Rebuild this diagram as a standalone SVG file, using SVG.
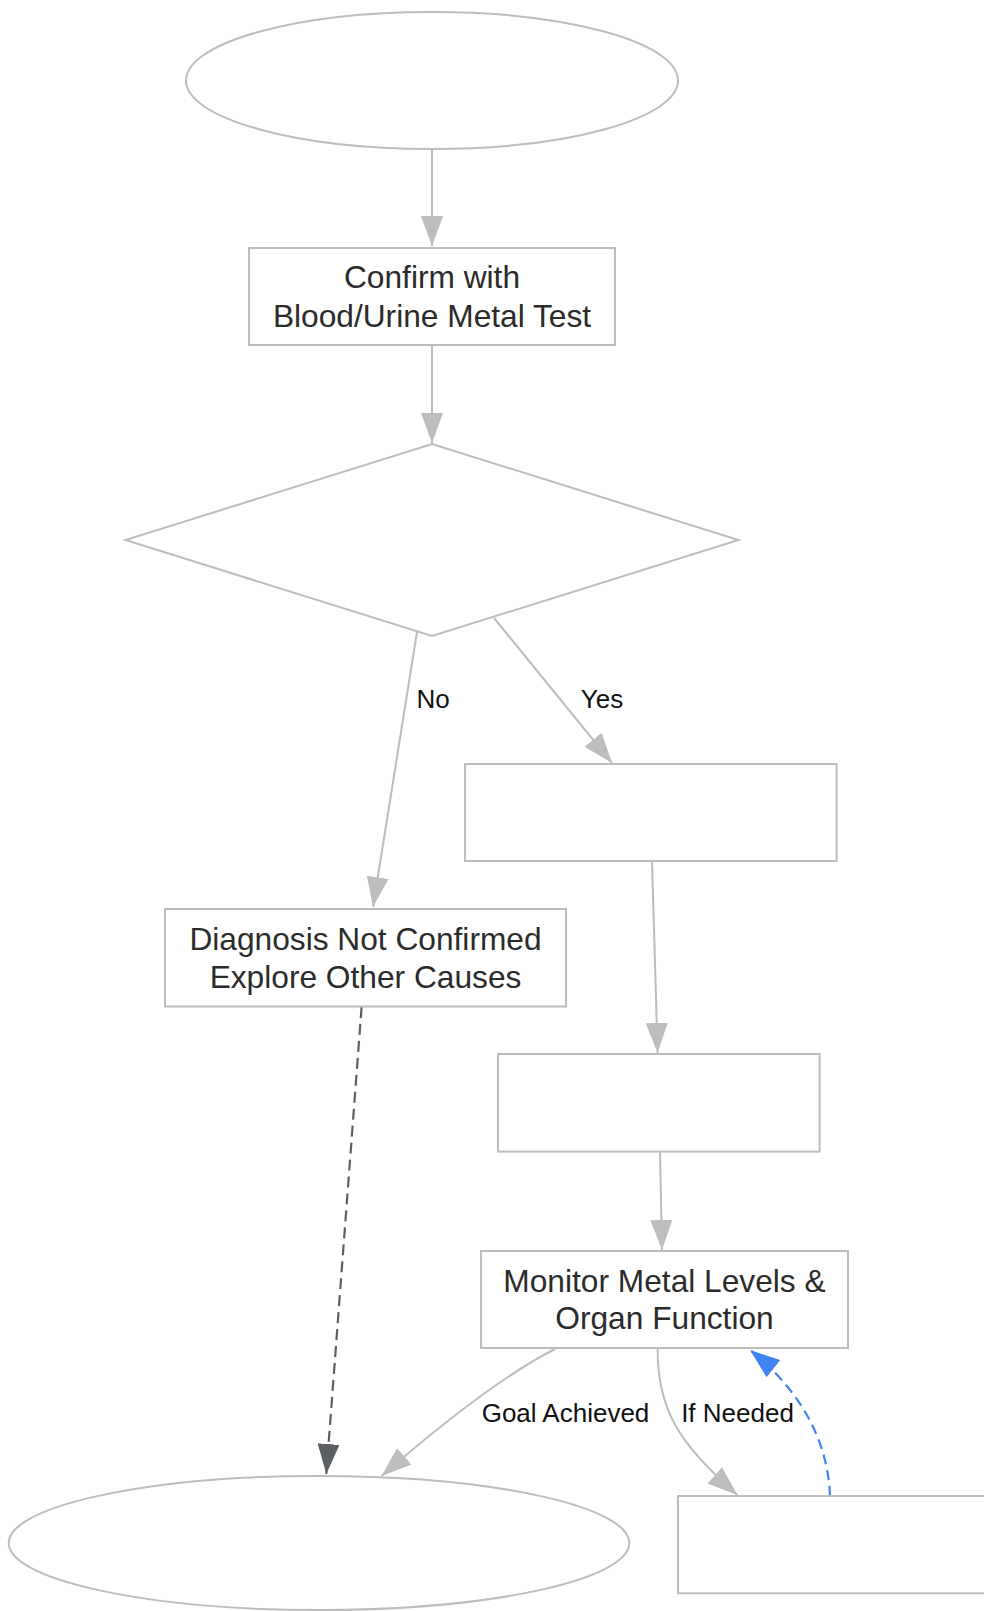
<svg xmlns="http://www.w3.org/2000/svg" width="984" height="1611" viewBox="0 0 984 1611">
<style>
.node{fill:#ffffff;stroke:#bdbdbd;stroke-width:2}
.nt{font-family:"Liberation Sans",Arial,sans-serif;font-size:31.7px;fill:#2b2b2b;text-anchor:middle}
.lbl{font-family:"Liberation Sans",Arial,sans-serif;font-size:26px;fill:#111111;text-anchor:middle}
.e{fill:none;stroke:#bdbdbd;stroke-width:2}
.ed{fill:none;stroke:#5c5f64;stroke-width:2.2;stroke-dasharray:11,6}
.eb{fill:none;stroke:#3f84f0;stroke-width:2.2;stroke-dasharray:10,6}
</style>
<defs>
<marker id="ag" markerUnits="userSpaceOnUse" markerWidth="30" markerHeight="22" refX="30" refY="11" orient="auto"><path d="M0,0 L30,11 L0,22 z" fill="#bdbdbd"/></marker>
<marker id="ad" markerUnits="userSpaceOnUse" markerWidth="30" markerHeight="22" refX="30" refY="11" orient="auto"><path d="M0,0 L30,11 L0,22 z" fill="#5c5f64"/></marker>
<marker id="ab" markerUnits="userSpaceOnUse" markerWidth="30" markerHeight="22" refX="30" refY="11" orient="auto"><path d="M0,0 L30,11 L0,22 z" fill="#3f84f0"/></marker>
</defs>
<rect width="984" height="1611" fill="#ffffff"/>
<g id="edges">
<path class="e" d="M432,149 L432,246" marker-end="url(#ag)"/>
<path class="e" d="M432,345 L432,443" marker-end="url(#ag)"/>
<path class="e" d="M417,632 L373,907" marker-end="url(#ag)"/>
<path class="e" d="M494,618 L612,763" marker-end="url(#ag)"/>
<path class="e" d="M652,861 L657.6,1053" marker-end="url(#ag)"/>
<path class="e" d="M660,1152 L662,1250" marker-end="url(#ag)"/>
<path class="ed" d="M361.6,1007 L326.3,1474" marker-end="url(#ad)"/>
<path class="e" d="M555,1349 Q490,1382 381.6,1476" marker-end="url(#ag)"/>
<path class="e" d="M657.7,1348 C657,1410 680,1445 737.4,1495" marker-end="url(#ag)"/>
<path class="eb" d="M830,1496 C828,1440 800,1390 750,1350" marker-end="url(#ab)"/>
<text class="lbl" x="433" y="708">No</text>
<text class="lbl" x="602" y="708">Yes</text>
<text class="lbl" x="565.5" y="1422">Goal Achieved</text>
<text class="lbl" x="737.5" y="1422">If Needed</text>
</g>
<g id="start"><ellipse class="node" cx="432" cy="80.5" rx="246" ry="68.5"/></g>
<g id="confirm"><rect class="node" x="249" y="248" width="366" height="97"/>
<text class="nt" x="432" y="288">Confirm with</text>
<text class="nt" x="432" y="327">Blood/Urine Metal Test</text></g>
<g id="decision"><polygon class="node" points="432,444 738.5,540 432,636 125.5,540"/></g>
<g id="treat"><rect class="node" x="465" y="764" width="371.6" height="97"/></g>
<g id="notconfirmed"><rect class="node" x="165" y="909" width="401" height="97.5"/>
<text class="nt" x="365.5" y="950">Diagnosis Not Confirmed</text>
<text class="nt" x="365.5" y="988">Explore Other Causes</text></g>
<g id="step3"><rect class="node" x="498" y="1054" width="321.6" height="97.6"/></g>
<g id="monitor"><rect class="node" x="481" y="1251" width="367" height="97"/>
<text class="nt" x="664.5" y="1292">Monitor Metal Levels &amp;</text>
<text class="nt" x="664.5" y="1329">Organ Function</text></g>
<g id="end"><ellipse class="node" cx="319" cy="1543" rx="310.3" ry="67"/></g>
<g id="adjust"><rect class="node" x="678" y="1496" width="360" height="97.3"/></g>
</svg>
